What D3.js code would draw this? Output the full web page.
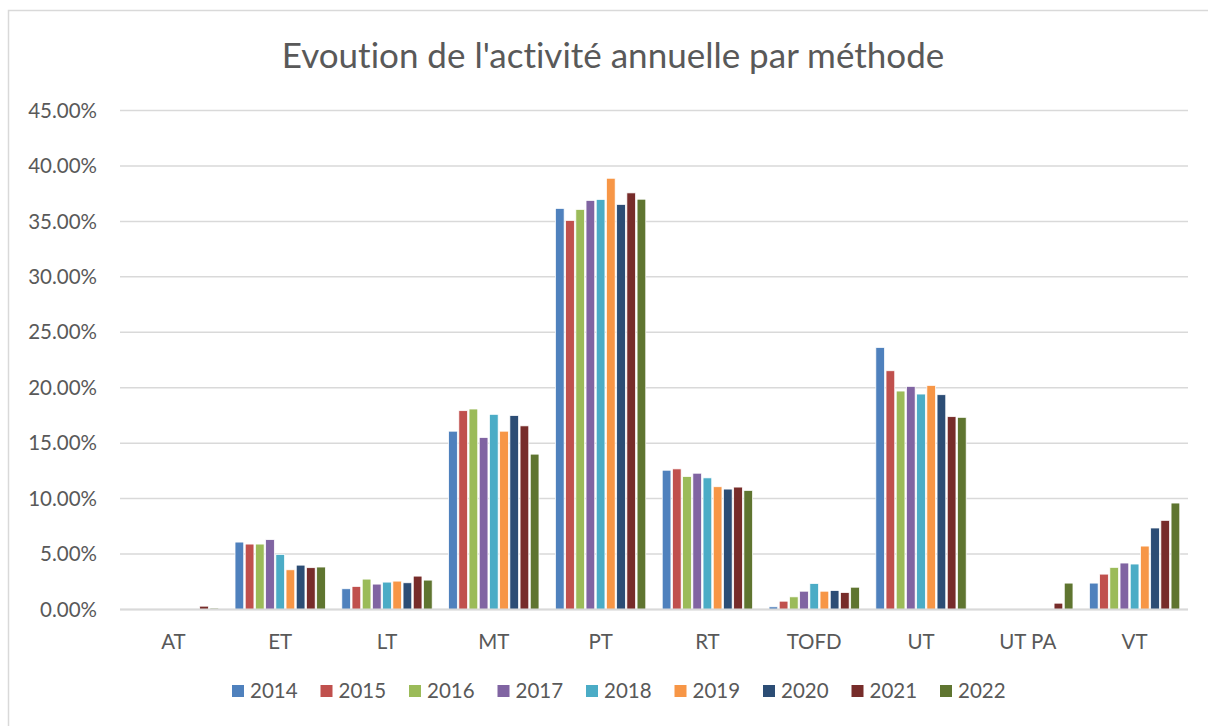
<!DOCTYPE html>
<html>
<head>
<meta charset="utf-8">
<script src="https://cdn.jsdelivr.net/npm/d3@7"></script>
<style>
  body { margin: 0; background: #fff; }
  text { font-family: Lato, "Open Sans", sans-serif; fill: #595959; font-variant-ligatures: none; }
</style>
</head>
<body>
<svg id="chart" width="1208" height="726"></svg>
<script>
const title = "Evoution de l'activité annuelle par méthode";
const methods = ["AT", "ET", "LT", "MT", "PT", "RT", "TOFD", "UT", "UT PA", "VT"];
const years = ["2014", "2015", "2016", "2017", "2018", "2019", "2020", "2021", "2022"];
const colors = ["#4F81BD", "#C0504D", "#9BBB59", "#8064A2", "#4BACC6", "#F79646", "#2C4D75", "#772C2A", "#5F7530"];
const yTicks = [0, 0.05, 0.1, 0.15, 0.2, 0.25, 0.3, 0.35, 0.4, 0.45];

// share per method (%), one array per year, in the order of `methods`
const s2014 = [0, 6.08, 1.87, 16.08, 36.17, 12.56, 0.24, 23.63, 0, 2.38];
const s2015 = [0, 5.90, 2.08, 17.93, 35.09, 12.68, 0.75, 21.53, 0, 3.19];
const s2016 = [0, 5.90, 2.74, 18.08, 36.08, 11.99, 1.14, 19.70, 0, 3.80];
const s2017 = [0, 6.30, 2.29, 15.51, 36.89, 12.29, 1.65, 20.12, 0, 4.19];
const s2018 = [0, 4.97, 2.47, 17.60, 36.98, 11.87, 2.34, 19.43, 0, 4.10];
const s2019 = [0, 3.58, 2.56, 16.08, 38.89, 11.07, 1.65, 20.21, 0, 5.72];
const s2020 = [0, 4.00, 2.41, 17.49, 36.53, 10.86, 1.71, 19.37, 0, 7.35];
const s2021 = [0.30, 3.77, 3.01, 16.56, 37.57, 11.04, 1.53, 17.39, 0.57, 8.04];
const s2022 = [0.12, 3.83, 2.65, 14.01, 37.00, 10.74, 2.01, 17.33, 2.38, 9.60];
const series = [s2014, s2015, s2016, s2017, s2018, s2019, s2020, s2021, s2022];

const svg = d3.select("#chart");
const plot = { left: 120, right: 1188, top: 110.5, bottom: 609.5 };
const labelSize = 20.5;

// chart border (runs off the bottom/right like the screenshot)
svg.append("rect")
  .attr("x", 8.5).attr("y", 10.5)
  .attr("width", 1220).attr("height", 740)
  .attr("fill", "none").attr("stroke", "#d9d9d9").attr("stroke-width", 1.5);

const x0 = d3.scaleBand().domain(methods).range([plot.left, plot.right])
  .paddingInner(0.14).paddingOuter(0.07);
const x1 = d3.scaleBand().domain(years).range([0, x0.bandwidth()]);
const y = d3.scaleLinear().domain([0, 0.45]).range([plot.bottom, plot.top]);

// gridlines
svg.append("g").selectAll("line").data(yTicks).join("line")
  .attr("x1", plot.left).attr("x2", plot.right)
  .attr("y1", (d) => y(d)).attr("y2", (d) => y(d))
  .attr("stroke", "#d9d9d9").attr("stroke-width", 1.5);

// y labels
svg.append("g").selectAll("text").data(yTicks).join("text")
  .attr("x", 97).attr("y", (d) => y(d))
  .attr("dy", "0.35em").attr("text-anchor", "end")
  .attr("font-size", labelSize)
  .text((d) => (d * 100).toFixed(2) + "%");

// bars
const rows = methods.flatMap((m, i) => years.map((yr, j) => ({ m, yr, j, v: series[j][i] / 100 })));
svg.append("g").selectAll("rect").data(rows.filter((d) => d.v > 0)).join("rect")
  .attr("x", (d) => x0(d.m) + x1(d.yr) + 0.75)
  .attr("width", x1.bandwidth() - 1.5)
  .attr("y", (d) => y(d.v))
  .attr("height", (d) => y(0) - y(d.v))
  .attr("fill", (d) => colors[d.j])
  .attr("stroke", "#fff").attr("stroke-width", 0.75);

// baseline
svg.append("line")
  .attr("x1", plot.left).attr("x2", plot.right)
  .attr("y1", y(0)).attr("y2", y(0))
  .attr("stroke", "#d9d9d9").attr("stroke-width", 2);

// category labels
svg.append("g").selectAll("text").data(methods).join("text")
  .attr("x", (d) => x0(d) + x0.bandwidth() / 2).attr("y", 642)
  .attr("dy", "0.35em").attr("text-anchor", "middle")
  .attr("font-size", labelSize)
  .text((d) => d);

// title
svg.append("text")
  .attr("x", 613).attr("y", 68)
  .attr("text-anchor", "middle")
  .attr("font-size", 35)
  .text(title);

// legend
const legend = svg.append("g").selectAll("g").data(years).join("g")
  .attr("transform", (d, i) => `translate(${232 + i * 88.5},691)`);
legend.append("rect")
  .attr("x", 0).attr("y", -6).attr("width", 12).attr("height", 12)
  .attr("fill", (d, i) => colors[i]);
legend.append("text")
  .attr("x", 18).attr("y", 0).attr("dy", "0.35em")
  .attr("font-size", labelSize)
  .text((d) => d);
</script>
</body>
</html>
